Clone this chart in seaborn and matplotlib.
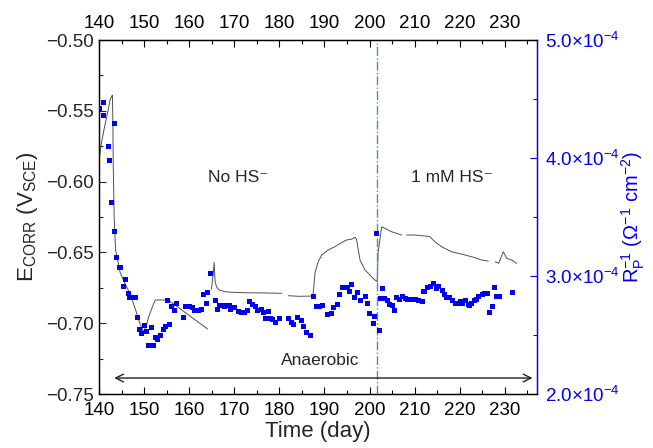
import numpy as np
import pandas as pd
import matplotlib
matplotlib.use("Agg")
import matplotlib.pyplot as plt
from matplotlib.ticker import MultipleLocator, FuncFormatter
import seaborn as sns

# ---------------- data ----------------
# E_corr (V vs SCE), segments of the potential record
e_seg = [1]*24 + [2]*11 + [3]*23 + [4]*11 + [5]*6
e_day = [140.1, 140.5, 141.0, 141.5, 142.0, 142.4, 142.7, 142.9, 143.0, 143.1, 143.3, 143.6,
         144.6, 145.7, 146.8, 147.9, 149.0, 149.8, 150.5, 150.9, 151.6, 152.4, 155.3, 164.0,
         164.9, 165.3, 165.5, 165.7, 166.0, 166.6, 168.1, 169.6, 172.6, 176.3, 180.5,
         182.0, 184.5, 187.2, 187.5, 187.9, 188.6, 189.4, 190.8, 192.3, 193.8, 194.9, 196.0,
         196.8, 197.1, 197.9, 199.0, 200.1, 201.2, 201.7, 201.9, 202.7, 204.9, 207.1,
         208.2, 210.1, 212.3, 213.4, 214.5, 216.0, 218.2, 221.2, 223.4, 224.9, 226.4,
         227.9, 228.7, 229.7, 230.5, 231.6, 232.7]
e_val = [-0.581, -0.572, -0.564, -0.556, -0.549, -0.542, -0.540, -0.539, -0.555, -0.590, -0.625, -0.648,
         -0.664, -0.672, -0.679, -0.689, -0.700, -0.706, -0.701, -0.696, -0.690, -0.6836, -0.6836, -0.704,
         -0.676, -0.665, -0.657, -0.670, -0.6742, -0.6766, -0.6778, -0.6782, -0.6785, -0.6786, -0.6789,
         -0.6806, -0.681, -0.6808, -0.679, -0.6643, -0.6566, -0.6518, -0.6483, -0.646, -0.6431, -0.6412, -0.6407,
         -0.6393, -0.6407, -0.6554, -0.6624, -0.666, -0.6695, -0.6707, -0.6506, -0.6319, -0.6354, -0.6377,
         -0.6377, -0.6377, -0.6384, -0.6389, -0.6424, -0.646, -0.6495, -0.6518, -0.6537, -0.6554, -0.6561,
         -0.6566, -0.6577, -0.6495, -0.6542, -0.6554, -0.6577]

# Rp^-1 values (in units of 1e-4 ohm^-1 cm^-2)
r_day = [140.1, 141.0, 141.0, 142.1, 142.2, 142.8, 143.3, 143.4, 143.9, 144.4, 144.8, 145.4, 145.9,
         146.4, 146.7, 147.2, 148.0, 148.4, 148.9, 149.4, 150.0, 150.5, 150.9, 151.5, 152.0, 152.4,
         153.0, 153.5, 154.2, 154.6, 155.1, 155.5, 156.1, 156.7, 157.1, 158.6, 159.2, 160.0, 160.6,
         161.2, 162.0, 162.6, 163.1, 163.7, 164.1, 164.7, 165.7, 166.3, 166.6, 167.3, 167.9, 168.4,
         168.9, 169.2, 170.0, 170.9, 171.6, 172.3, 172.8, 173.4, 174.1, 174.6, 175.2, 176.0, 176.5,
         177.0, 177.5, 178.0, 178.5, 179.2, 180.0, 182.0, 182.7, 183.2, 184.1, 184.8, 185.4, 186.1,
         186.8, 187.6, 188.2, 189.0, 189.6, 190.6, 191.6, 192.1, 192.8, 193.4, 193.9, 195.1, 195.5,
         196.0, 196.7, 197.3, 198.1, 199.0, 199.6, 200.1, 200.8, 201.1, 201.6, 202.2, 202.5, 202.8,
         203.4, 204.0, 204.5, 205.0, 205.6, 206.0, 206.6, 207.3, 207.9, 208.5, 209.1, 209.7, 210.3,
         210.9, 211.7, 212.1, 212.9, 213.5, 214.2, 214.8, 215.4, 216.1, 216.6, 217.1, 217.8, 218.5,
         219.0, 219.6, 220.1, 220.7, 221.3, 221.9, 222.3, 222.7, 223.4, 223.8, 224.2, 225.0, 225.6,
         226.1, 226.6, 227.3, 227.8, 228.2, 228.8, 231.7]
r_val = [4.42, 4.47, 4.36, 4.10, 3.98, 3.62, 4.29, 3.38, 3.16, 3.07, 3.07, 2.91, 2.97,
         2.85, 2.82, 2.82, 2.82, 2.65, 2.55, 2.51, 2.58, 2.53, 2.41, 2.56, 2.41, 2.48,
         2.46, 2.50, 2.55, 2.57, 2.79, 2.59, 2.74, 2.71, 2.77, 2.65, 2.74, 2.74, 2.73,
         2.71, 2.71, 2.72, 2.84, 2.77, 2.86, 3.02, 2.79, 2.72, 2.75, 2.75, 2.74, 2.75,
         2.75, 2.72, 2.73, 2.70, 2.69, 2.69, 2.71, 2.78, 2.76, 2.74, 2.71, 2.72, 2.69,
         2.64, 2.70, 2.64, 2.63, 2.61, 2.64, 2.64, 2.61, 2.59, 2.65, 2.62, 2.57, 2.52,
         2.50, 2.83, 2.74, 2.74, 2.75, 2.67, 2.68, 2.73, 2.76, 2.84, 2.90, 2.90, 2.87,
         2.93, 2.82, 2.86, 2.79, 2.83, 2.77, 2.68, 2.60, 2.66, 3.36, 2.54, 2.81, 2.89,
         2.81, 2.79, 2.76, 2.75, 2.71, 2.82, 2.80, 2.83, 2.81, 2.80, 2.80, 2.80, 2.80,
         2.79, 2.78, 2.87, 2.90, 2.91, 2.94, 2.89, 2.91, 2.88, 2.84, 2.82, 2.82, 2.79,
         2.77, 2.77, 2.78, 2.77, 2.79, 2.76, 2.75, 2.77, 2.79, 2.80, 2.83, 2.84, 2.85,
         2.85, 2.69, 2.74, 2.90, 2.83, 2.83, 2.86]

hs_day = 201.7
labels = ["No HS\u207b", "1 mM HS\u207b", "Anaerobic"]

# ---------------- style ----------------
sns.set_theme(style="ticks")
plt.rcParams["font.family"] = ["Liberation Sans", "DejaVu Sans"]
plt.rcParams["mathtext.fontset"] = "custom"
plt.rcParams["mathtext.rm"] = "Liberation Sans"
plt.rcParams["mathtext.it"] = "Liberation Sans:italic"
plt.rcParams["mathtext.bf"] = "Liberation Sans:bold"
plt.rcParams["axes.unicode_minus"] = True

BLUE = "#0000ee"
fig = plt.figure(figsize=(6.53, 4.48), dpi=100)
ax = fig.add_axes([0.1521, 0.1205, 0.6703, 0.7902])
ax2 = ax.twinx()

df_e = pd.DataFrame({"day": e_day, "E": e_val, "seg": e_seg})
df_r = pd.DataFrame({"day": r_day, "R": np.array(r_val) * 1e-4})

sns.lineplot(data=df_e, x="day", y="E", units="seg", estimator=None, color="#505050",
             lw=0.7, ax=ax, legend=False, sort=False)
sns.scatterplot(data=df_r, x="day", y="R", marker="s", color=BLUE, s=13,
                edgecolor="none", ax=ax2, legend=False, zorder=3)

ax.axvline(hs_day, color="#5a8f8f", lw=1.0, ls="-.")

ax.set_xlim(140, 237.2)
ax.set_ylim(-0.75, -0.50)
ax2.set_ylim(2.0e-4, 5.0e-4)

ax.xaxis.set_major_locator(MultipleLocator(10))
ax.xaxis.set_minor_locator(MultipleLocator(5))
ax.yaxis.set_major_locator(MultipleLocator(0.05))
ax.yaxis.set_minor_locator(MultipleLocator(0.025))
ax.yaxis.set_major_formatter(FuncFormatter(lambda v, p: f"{v:.2f}".replace("-", "\u2212")))
ax2.yaxis.set_major_locator(MultipleLocator(1e-4))
ax2.yaxis.set_minor_locator(MultipleLocator(0.5e-4))
ax2.yaxis.set_major_formatter(FuncFormatter(lambda v, p: r"%.1f$\times$10$^{-4}$" % (v * 1e4)))

ax.tick_params(axis="x", which="both", direction="in", top=True, labeltop=True,
               labelsize=13.5, pad=6, colors="black")
ax.tick_params(axis="x", which="major", length=5, width=0.8)
ax.tick_params(axis="x", which="minor", length=3, width=0.8)
ax.tick_params(axis="y", which="both", direction="in", labelsize=13.5, pad=4)
ax.tick_params(axis="y", which="major", length=5, width=0.8)
ax.tick_params(axis="y", which="minor", length=3, width=0.8)
ax2.tick_params(axis="y", which="both", direction="in", colors=BLUE, labelsize=13.5, pad=6)
ax2.tick_params(axis="y", which="major", length=5, width=0.8)
ax2.tick_params(axis="y", which="minor", length=3, width=0.8)

for a in (ax, ax2):
    for s in a.spines.values():
        s.set_linewidth(0.9)
        s.set_visible(True)
        s.set_color("black")
    a.spines["right"].set_color(BLUE)

ax.set_xlabel("Time (day)", fontsize=16, labelpad=1)
ax.set_ylabel(r"E$_{\mathrm{CORR}}$ (V$_{\mathrm{SCE}}$)", fontsize=16, labelpad=4)
ax2.set_ylabel(r"R$_{\mathrm{P}}^{-1}$ ($\Omega^{-1}$ cm$^{-2}$)", fontsize=14.5,
               color=BLUE, labelpad=0)

ax.text(170.9, -0.597, labels[0], fontsize=12.5, ha="center", va="center")
ax.text(218.2, -0.597, labels[1], fontsize=12.5, ha="center", va="center")
ax.text(189.0, -0.7265, labels[2], fontsize=12.5, ha="center", va="center")
ax.annotate("", xy=(143.3, -0.7387), xytext=(236.2, -0.7387),
            arrowprops=dict(arrowstyle="<->", lw=1.0, color="#222222",
                            shrinkA=0, shrinkB=0, mutation_scale=14))

fig.savefig("out.png", dpi=100)
